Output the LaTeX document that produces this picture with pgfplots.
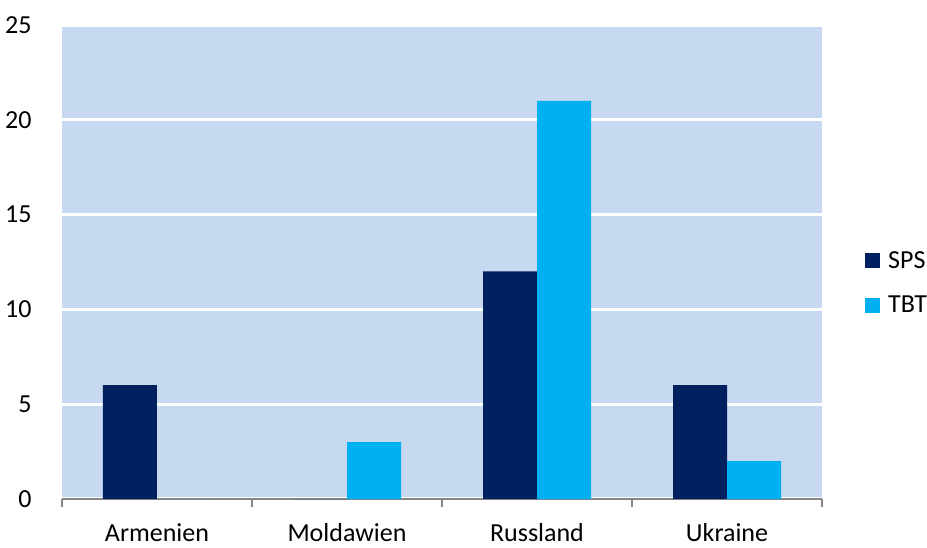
\documentclass[border=0pt]{standalone}
\usepackage{pgfplots}
\pgfplotsset{compat=1.18}
\usepackage{fontspec}
\setmainfont{Carlito}
\definecolor{bgblue}{HTML}{C6D9F0}
\definecolor{navy}{HTML}{002060}
\definecolor{sky}{HTML}{00B0F0}
\definecolor{axgray}{HTML}{868686}
\begin{document}
\begin{tikzpicture}
\begin{axis}[
  scale only axis,
  width=760pt, height=474pt,
  xmin=-0.5, xmax=3.5, ymin=0, ymax=25,
  ybar=0pt, bar width=54pt,
  axis background/.style={fill=bgblue},
  axis x line*=bottom,
  axis y line*=left,
  x axis line style={draw=axgray, line width=1.5pt, -},
  y axis line style={draw=none},
  xtick={0,1,2,3},
  xticklabels={Armenien,Moldawien,Russland,Ukraine},
  major x tick style={draw=none},
  major y tick style={draw=none},
  minor xtick={-0.5,0.5,1.5,2.5,3.5},
  minor x tick style={draw=axgray, line width=1.2pt},
  minor tick length=8pt,
  tick align=outside,
  ytick={0,5,10,15,20,25},
  ymajorgrids,
  major grid style={draw=white, line width=3.2pt},
  yticklabel style={font=\fontsize{26}{30}\selectfont, anchor=east, inner sep=0pt, xshift=-26pt},
  xticklabel style={font=\fontsize{26}{30}\selectfont, anchor=base, inner sep=0pt, yshift=-38pt},
  legend style={at={(1.0566,0.456)}, anchor=west, draw=none, fill=none,
    font=\fontsize{26}{30}\selectfont, row sep=22pt, column sep=6pt, inner sep=0pt,
    legend cell align=left},
  legend image code/.code={\fill[#1] (0pt,-7.5pt) rectangle (15pt,7.5pt);},
  /pgf/number format/assume math mode=true,
]
\addplot[fill=navy, draw=none] coordinates {(0,6) (1,0) (2,12) (3,6)};
\addplot[fill=sky, draw=none] coordinates {(0,0) (1,3) (2,21) (3,2)};
\legend{SPS,TBT}
\coordinate (sw) at (rel axis cs:0,0);
\end{axis}
\pgfresetboundingbox
\path (sw) ++(-62pt,-48pt) rectangle ++(927pt,547pt);
\end{tikzpicture}
\end{document}
